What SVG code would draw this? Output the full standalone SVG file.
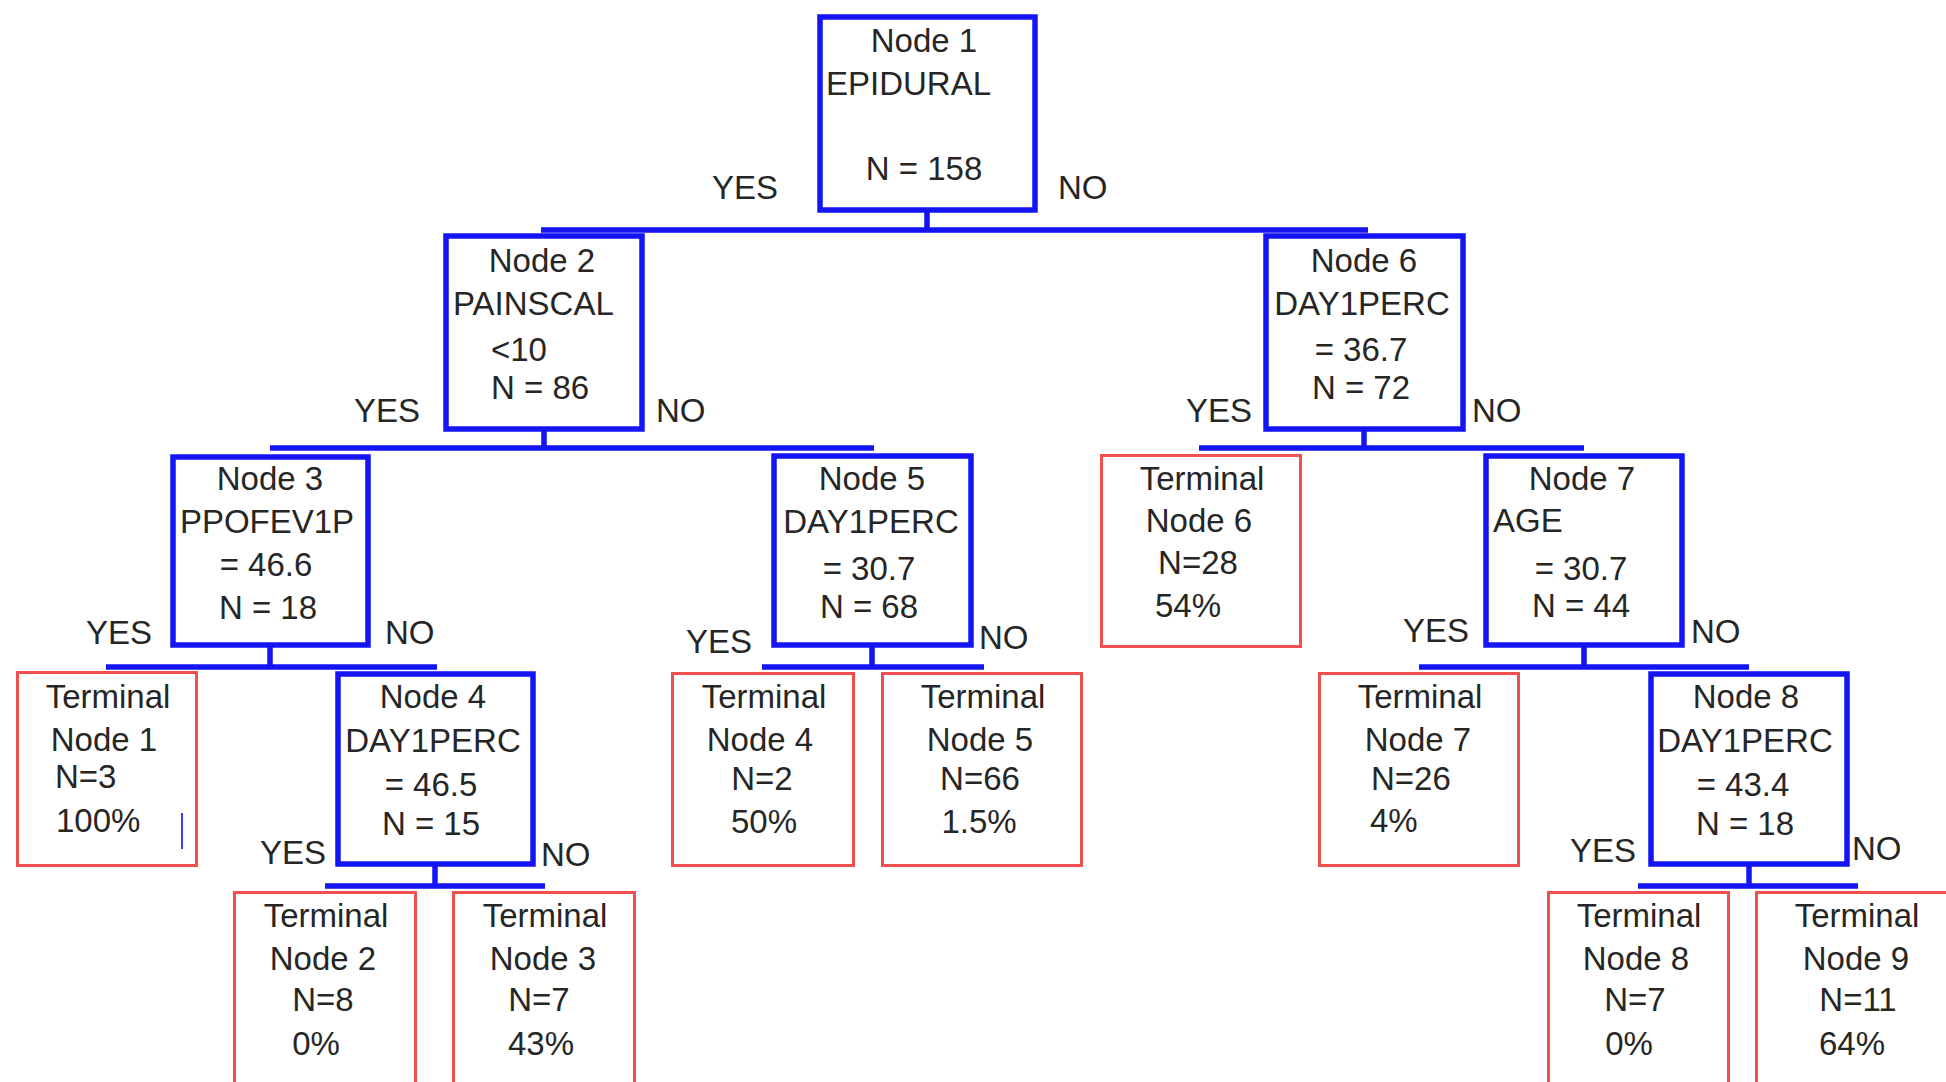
<svg xmlns="http://www.w3.org/2000/svg" width="1946" height="1082" viewBox="0 0 1946 1082">
<style>
.split{fill:#fff;stroke:#1414f5;stroke-width:5.5}
.term{fill:#fff;stroke:#f05050;stroke-width:3}
.conn{stroke:#1414f5;stroke-width:5.5;fill:none}
text{font-family:"Liberation Sans",Arial,sans-serif;font-size:33px;fill:#262626}
.m{text-anchor:middle}
</style>
<rect width="1946" height="1082" fill="#fff"/>
<g id="connectors">
<path class="conn" d="M927,211V230M541,230H1368"/>
<path class="conn" d="M544,430V448M270,448H874"/>
<path class="conn" d="M1364,430V448M1199,448H1584"/>
<path class="conn" d="M270,646V667M106,667H437"/>
<path class="conn" d="M872,646V667M762,667H984"/>
<path class="conn" d="M1584,646V667M1419,667H1749"/>
<path class="conn" d="M435,865V886M325,886H545"/>
<path class="conn" d="M1749,865V886M1638,886H1858"/>
</g>
<g id="labels">
<text x="712" y="199">YES</text><text x="1058" y="199">NO</text>
<text x="354" y="422">YES</text><text x="656" y="422">NO</text>
<text x="1186" y="422">YES</text><text x="1472" y="422">NO</text>
<text x="86" y="644">YES</text><text x="385" y="644">NO</text>
<text x="686" y="653">YES</text><text x="979" y="649">NO</text>
<text x="1403" y="642">YES</text><text x="1691" y="643">NO</text>
<text x="260" y="864">YES</text><text x="541" y="866">NO</text>
<text x="1570" y="862">YES</text><text x="1852" y="860">NO</text>
</g>
<g id="node1"><rect class="split" x="820" y="17" width="215" height="193"/>
<text class="m" x="924" y="52">Node 1</text><text x="826" y="95">EPIDURAL</text><text class="m" x="924" y="180">N = 158</text></g>
<g id="node2"><rect class="split" x="446" y="236" width="196" height="193"/>
<text class="m" x="542" y="272">Node 2</text><text x="453" y="315">PAINSCAL</text><text x="491" y="361">&lt;10</text><text x="491" y="399">N = 86</text></g>
<g id="node6"><rect class="split" x="1266" y="236" width="197" height="193"/>
<text class="m" x="1364" y="272">Node 6</text><text class="m" x="1362" y="315">DAY1PERC</text><text class="m" x="1361" y="361">= 36.7</text><text class="m" x="1361" y="399">N = 72</text></g>
<g id="node3"><rect class="split" x="173" y="457" width="195" height="188"/>
<text class="m" x="270" y="490">Node 3</text><text class="m" x="267" y="533">PPOFEV1P</text><text class="m" x="266" y="576">= 46.6</text><text class="m" x="268" y="619">N = 18</text></g>
<g id="node5"><rect class="split" x="774" y="456" width="197" height="189"/>
<text class="m" x="872" y="490">Node 5</text><text class="m" x="871" y="533">DAY1PERC</text><text class="m" x="869" y="580">= 30.7</text><text class="m" x="869" y="618">N = 68</text></g>
<g id="terminal6"><rect class="term" x="1101.5" y="455.5" width="199" height="191"/>
<text class="m" x="1202" y="490">Terminal</text><text class="m" x="1199" y="532">Node 6</text><text class="m" x="1198" y="574">N=28</text><text x="1155" y="617">54%</text></g>
<g id="node7"><rect class="split" x="1486" y="456" width="196" height="189"/>
<text class="m" x="1582" y="490">Node 7</text><text x="1493" y="532">AGE</text><text class="m" x="1581" y="580">= 30.7</text><text class="m" x="1581" y="617">N = 44</text></g>
<g id="terminal1"><rect class="term" x="17.5" y="672.5" width="179" height="193"/>
<text class="m" x="108" y="708">Terminal</text><text class="m" x="104" y="751">Node 1</text><text x="55" y="788">N=3</text><text x="56" y="832">100%</text>
<line x1="182" y1="813" x2="182" y2="849" stroke="#3a3aff" stroke-width="2"/></g>
<g id="node4"><rect class="split" x="338" y="674" width="195" height="190"/>
<text class="m" x="433" y="708">Node 4</text><text class="m" x="433" y="752">DAY1PERC</text><text class="m" x="431" y="796">= 46.5</text><text class="m" x="431" y="835">N = 15</text></g>
<g id="terminal4"><rect class="term" x="672.5" y="673.5" width="181" height="192"/>
<text class="m" x="764" y="708">Terminal</text><text class="m" x="760" y="751">Node 4</text><text class="m" x="762" y="790">N=2</text><text class="m" x="764" y="833">50%</text></g>
<g id="terminal5"><rect class="term" x="882.5" y="673.5" width="199" height="192"/>
<text class="m" x="983" y="708">Terminal</text><text class="m" x="980" y="751">Node 5</text><text class="m" x="980" y="790">N=66</text><text class="m" x="979" y="833">1.5%</text></g>
<g id="terminal7"><rect class="term" x="1319.5" y="673.5" width="199" height="192"/>
<text class="m" x="1420" y="708">Terminal</text><text class="m" x="1418" y="751">Node 7</text><text x="1371" y="790">N=26</text><text x="1370" y="832">4%</text></g>
<g id="node8"><rect class="split" x="1651" y="674" width="196" height="190"/>
<text class="m" x="1746" y="708">Node 8</text><text class="m" x="1745" y="752">DAY1PERC</text><text class="m" x="1743" y="796">= 43.4</text><text class="m" x="1745" y="835">N = 18</text></g>
<g id="terminal2"><rect class="term" x="234.5" y="892.5" width="181" height="250"/>
<text class="m" x="326" y="927">Terminal</text><text class="m" x="323" y="970">Node 2</text><text class="m" x="323" y="1011">N=8</text><text class="m" x="316" y="1055">0%</text></g>
<g id="terminal3"><rect class="term" x="453.5" y="892.5" width="181" height="250"/>
<text class="m" x="545" y="927">Terminal</text><text class="m" x="543" y="970">Node 3</text><text class="m" x="539" y="1011">N=7</text><text class="m" x="541" y="1055">43%</text></g>
<g id="terminal8"><rect class="term" x="1548.5" y="892.5" width="180" height="250"/>
<text class="m" x="1639" y="927">Terminal</text><text class="m" x="1636" y="970">Node 8</text><text class="m" x="1635" y="1011">N=7</text><text class="m" x="1629" y="1055">0%</text></g>
<g id="terminal9"><rect class="term" x="1756.5" y="892.5" width="204" height="250"/>
<text class="m" x="1857" y="927">Terminal</text><text class="m" x="1856" y="970">Node 9</text><text class="m" x="1858" y="1011">N=11</text><text class="m" x="1852" y="1055">64%</text></g>
</svg>
